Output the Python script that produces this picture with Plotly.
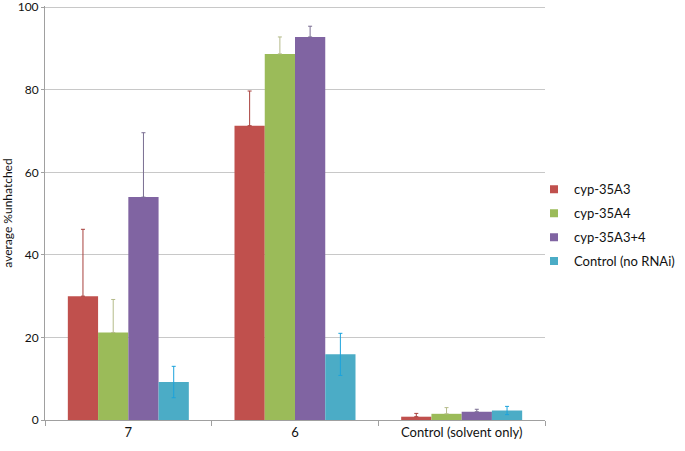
import plotly.graph_objects as go

categories = ["7", "6", "Control (solvent only)"]
series_names = ["cyp-35A3", "cyp-35A4", "cyp-35A3+4", "Control (no RNAi)"]
values_a3 = [30.0, 71.3, 0.8]
values_a4 = [21.2, 88.7, 1.5]
values_a34 = [54.0, 92.8, 2.0]
values_ctrl = [9.2, 15.9, 2.3]
err_a3 = [16.2, 8.4, 0.8]
err_a4 = [8.0, 4.1, 1.5]
err_a34 = [15.6, 2.6, 0.6]
err_ctrl = [3.8, 5.1, 1.0]

colors = ["#C0504D", "#9BBB59", "#8064A2", "#4BACC6"]
err_colors = ["#A8403D", "#B5BB8A", "#7A6E92", "#1CA3DC"]
# lower error bars are hidden behind bars except for the control series
show_lower = [False, False, False, True]

FONT = "Lato, Open Sans, sans-serif"

fig = go.Figure()
for i, (name, vals, errs, c, ec, low) in enumerate(zip(series_names,
                                   [values_a3, values_a4, values_a34, values_ctrl],
                                   [err_a3, err_a4, err_a34, err_ctrl],
                                   colors, err_colors, show_lower)):
    fig.add_trace(go.Bar(
        x=categories, y=vals, name=name, showlegend=False,
        marker=dict(color=c, line=dict(width=0)),
        error_y=dict(type="data", symmetric=False, array=errs,
                     arrayminus=errs if low else [0] * len(errs),
                     visible=True, color=ec, thickness=1, width=2),
    ))
    fig.add_trace(go.Scatter(
        x=[None], y=[None], mode="markers", name=name, legendgroup=f"g{i}",
        marker=dict(symbol="square", size=8, color=c),
    ))

fig.update_layout(
    width=685, height=451,
    margin=dict(l=45, r=140, t=6, b=31, autoexpand=False),
    paper_bgcolor="white", plot_bgcolor="white",
    barmode="group", bargap=0.274, bargroupgap=0,
    font=dict(family=FONT, size=12, color="#222222"),
    showlegend=True,
    legend=dict(x=0.978, xanchor="left", y=0.47, yanchor="middle",
                font=dict(family=FONT, size=13, color="#111111"), traceorder="grouped",
                tracegroupgap=4, itemwidth=30, bgcolor="rgba(0,0,0,0)"),
    xaxis=dict(showline=True, linecolor="#A0A0A0", linewidth=1, ticks="outside",
               tickson="boundaries", ticklen=5, tickcolor="#A0A0A0", automargin=False,
               tickfont=dict(family=FONT, size=13, color="#111111"), showgrid=False),
    yaxis=dict(range=[0, 100.3], dtick=20, showline=True, linecolor="#A0A0A0", linewidth=1,
               ticks="outside", ticklen=3, tickcolor="#A0A0A0", automargin=False,
               ticklabeloverflow="allow",
               gridcolor="#C8C8C8", gridwidth=1, zeroline=False,
               tickfont=dict(family=FONT, size=12, color="#111111"),
               title=dict(text="average %unhatched", font=dict(family=FONT, size=12, color="#111111"), standoff=12)),
)

fig.write_html("out.html", config={"displayModeBar": False},
               post_script="document.body.style.margin='0';document.body.style.padding='0';")
